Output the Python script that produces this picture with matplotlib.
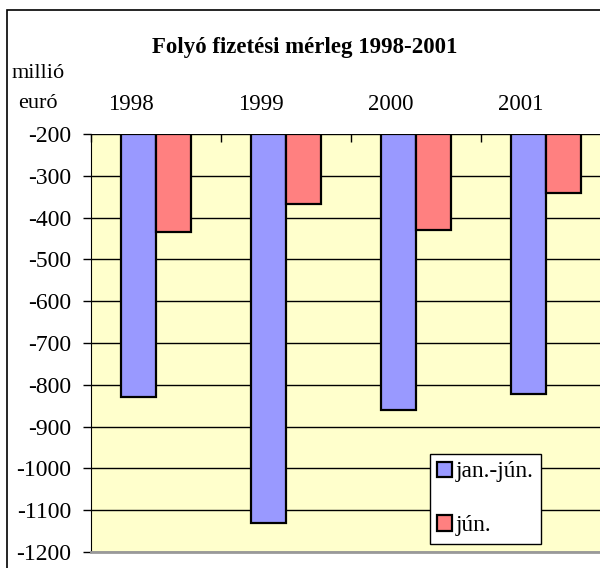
import matplotlib.pyplot as plt
from matplotlib.patches import Rectangle
import numpy as np

years = ['1998', '1999', '2000', '2001']
jan_jun = [-828, -1130, -860, -823]
jun = [-434, -368, -430, -340]
labels = ['jan.-jún.', 'jún.']
base = -200

plt.rcParams['font.family'] = ['Liberation Serif', 'DejaVu Serif']
plt.rcParams['axes.unicode_minus'] = False

fig = plt.figure(figsize=(6, 5.68), dpi=100)
fig.patches.append(Rectangle((7 / 600, -0.1), 1.2, 1 - 10 / 568 + 0.1,
                             transform=fig.transFigure, fill=False,
                             edgecolor='black', linewidth=1.2))

ax = fig.add_axes([90.7 / 600, 1 - 552 / 568, 520 / 600, 418 / 568])
ax.set_facecolor('#FFFFCC')

x = np.arange(len(years))
w = 0.27
ax.bar(x - w / 2, np.array(jan_jun) - base, w, bottom=base, color='#9999FF',
       edgecolor='black', linewidth=1.6, label=labels[0], zorder=3)
ax.bar(x + w / 2, np.array(jun) - base, w, bottom=base, color='#FF8080',
       edgecolor='black', linewidth=1.6, label=labels[1], zorder=3)

ax.set_ylim(-1200, -200)
ax.set_xlim(-0.5, 3.5)
ax.set_yticks(np.arange(-1200, -199, 100))
ax.yaxis.grid(True, color='black', linewidth=1.0, zorder=1)
ax.set_axisbelow(True)
ax.tick_params(axis='y', direction='out', length=6, width=1, pad=8,
               labelsize=17, colors='black')
ax.xaxis.tick_top()
ax.set_xticks(np.arange(-0.5, 3.6, 1))
ax.set_xticklabels([])
ax.tick_params(axis='x', direction='in', length=6, width=1)

for s in ['top', 'right']:
    ax.spines[s].set_visible(False)
ax.spines['left'].set_color('black')
ax.spines['bottom'].set_color('#999999')
ax.spines['bottom'].set_linewidth(2)

for i, y in enumerate(years):
    ax.text(i - 0.19, 1.07, y, transform=ax.get_xaxis_transform(),
            ha='center', va='center', fontsize=16.5)

fig.text(305 / 600, 1 - 47 / 568, 'Folyó fizetési mérleg 1998-2001',
         ha='center', va='center', fontsize=16.5, fontweight='bold')
fig.text(38 / 600, 1 - 73 / 568, 'millió', ha='center', va='center', fontsize=16)
fig.text(38 / 600, 1 - 103 / 568, 'euró', ha='center', va='center', fontsize=16)

leg = ax.legend(loc='upper left', bbox_to_anchor=(0.6525, 0.2344),
                borderaxespad=0, fontsize=16.8, frameon=True, fancybox=False,
                edgecolor='black', framealpha=1, handlelength=0.62,
                handleheight=0.62, handletextpad=0.15, labelspacing=1.4,
                borderpad=0.32)
leg.get_frame().set_linewidth(1)

fig.savefig('out.png', dpi=100)
